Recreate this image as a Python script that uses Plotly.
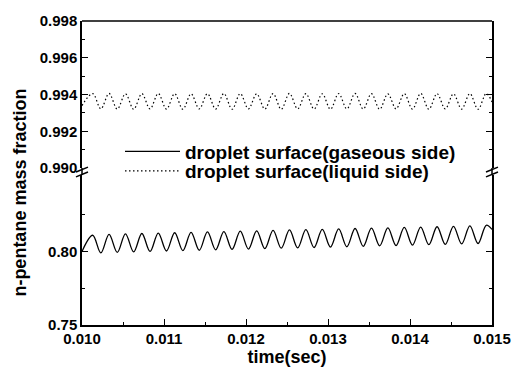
import plotly.graph_objects as go

# ---- data (extrema of the oscillations) ----
gas_peak_t = [0.01013, 0.01033, 0.01053, 0.01073, 0.01093, 0.01113, 0.01133, 0.01153,
              0.01173, 0.01193, 0.01213, 0.01233, 0.01253, 0.01273, 0.01293, 0.01313,
              0.01333, 0.01353, 0.01373, 0.01393, 0.01413, 0.01433, 0.01453, 0.01473, 0.01493]
gas_peak_v = [0.8110, 0.8116, 0.8120, 0.8122, 0.8125, 0.8127, 0.8130, 0.8133,
              0.8135, 0.8138, 0.8140, 0.8143, 0.8146, 0.8148, 0.8150, 0.8153,
              0.8156, 0.8158, 0.8160, 0.8163, 0.8166, 0.8168, 0.8171, 0.8174, 0.8178]
gas_trough_t = [0.01023, 0.01043, 0.01063, 0.01083, 0.01103, 0.01123, 0.01143, 0.01163,
                0.01183, 0.01203, 0.01223, 0.01243, 0.01263, 0.01283, 0.01303, 0.01323,
                0.01343, 0.01363, 0.01383, 0.01403, 0.01423, 0.01443, 0.01463, 0.01483]
gas_trough_v = [0.7990, 0.7994, 0.7997, 0.8000, 0.8003, 0.8006, 0.8008, 0.8011,
                0.8014, 0.8016, 0.8019, 0.8022, 0.8024, 0.8027, 0.8030, 0.8032,
                0.8035, 0.8038, 0.8040, 0.8043, 0.8046, 0.8048, 0.8051, 0.8054]
gas_start = (0.01000, 0.8000)
gas_end = (0.01500, 0.8150)

liq_peak_v = [0.99405, 0.99406, 0.99404, 0.99405, 0.99406, 0.99405, 0.99404, 0.99405,
              0.99406, 0.99405, 0.99404, 0.99405, 0.99406, 0.99405, 0.99404, 0.99405,
              0.99406, 0.99405, 0.99404, 0.99405, 0.99406, 0.99405, 0.99404, 0.99405, 0.99406]
liq_trough_v = [0.99322, 0.99321, 0.99320, 0.99322, 0.99321, 0.99320, 0.99322, 0.99321,
                0.99320, 0.99322, 0.99321, 0.99320, 0.99322, 0.99321, 0.99320, 0.99322,
                0.99321, 0.99320, 0.99322, 0.99321, 0.99320, 0.99322, 0.99321, 0.99320]
liq_start = (0.01000, 0.99340)
liq_end = (0.01500, 0.99360)

x_ticks = [0.010, 0.011, 0.012, 0.013, 0.014, 0.015]
x_ticklabels = ["0.010", "0.011", "0.012", "0.013", "0.014", "0.015"]
y_up_ticks = [0.990, 0.992, 0.994, 0.996, 0.998]
y_up_labels = ["0.990", "0.992", "0.994", "0.996", "0.998"]
y_lo_ticks = [0.75, 0.80]
y_lo_labels = ["0.75", "0.80"]

names = ["droplet surface(gaseous side)", "droplet surface(liquid side)"]


def interleave(start, pt, pv, tt, tv, end):
    xs, ys = [start[0]], [start[1]]
    for i in range(len(pt)):
        xs.append(pt[i]); ys.append(pv[i])
        if i < len(tt):
            xs.append(tt[i]); ys.append(tv[i])
    xs.append(end[0]); ys.append(end[1])
    return xs, ys


gx, gy = interleave(gas_start, gas_peak_t, gas_peak_v, gas_trough_t, gas_trough_v, gas_end)
lx, ly = interleave(liq_start, gas_peak_t, liq_peak_v, gas_trough_t, liq_trough_v, liq_end)

FONT = "Liberation Sans"
fig = go.Figure()
fig.add_trace(go.Scatter(x=gx, y=gy, mode="lines", name="<b>" + names[0] + "</b>", yaxis="y2",
                         legend="legend",
                         line=dict(color="black", width=1.3, shape="spline", smoothing=1.0)))
fig.add_trace(go.Scatter(x=lx, y=ly, mode="lines", name="<b>" + names[1] + "</b>", yaxis="y",
                         legend="legend2",
                         line=dict(color="black", width=1.2, dash="1.5px,2.5px", shape="spline", smoothing=1.0)))

W, H = 524, 376
L, R, T, B = 82, 32, 15, 51
pw, ph = W - L - R, H - T - B
up_bot = (325 - 165) / ph
lo_top = (325 - 172) / ph
lo_range_top = 0.75 + (325 - 172) / 1500.0

tickfont = dict(family=FONT, size=15, color="black", weight="bold")
legfont = dict(family=FONT, size=19, color="black")
leg_x = (120 - L) / pw
common_leg = dict(x=leg_x, xanchor="left", yanchor="middle", bgcolor="rgba(0,0,0,0)",
                  font=legfont, itemwidth=55, borderwidth=0)
fig.update_layout(
    width=W, height=H,
    margin=dict(l=L, r=R, t=T, b=B),
    paper_bgcolor="white", plot_bgcolor="white",
    showlegend=True,
    legend=dict(y=(325 - 148) / ph, **common_leg),
    legend2=dict(y=(325 - 168) / ph, **common_leg),
    xaxis=dict(range=[0.010, 0.015], anchor="y2", tickvals=x_ticks, ticktext=x_ticklabels,
               ticks="inside", ticklen=6, tickcolor="black", showline=True, linecolor="black",
               linewidth=1.5, showgrid=False, zeroline=False, tickfont=tickfont,
               ticklabelstandoff=-1,
               minor=dict(ticks="inside", ticklen=3, dtick=0.0005, tick0=0.010, tickcolor="black"),
               title=dict(text="<b>time(sec)</b>", font=dict(family=FONT, size=18, color="black"), standoff=0)),
    yaxis=dict(domain=[up_bot, 1.0], range=[0.990, 0.998], tickvals=y_up_ticks, ticktext=y_up_labels,
               ticks="inside", ticklen=6, tickcolor="black", showline=True, linecolor="black",
               linewidth=1.5, mirror="ticks", showgrid=False, zeroline=False, tickfont=tickfont,
               minor=dict(ticks="inside", ticklen=3, dtick=0.001, tick0=0.990, tickcolor="black")),
    yaxis2=dict(domain=[0.0, lo_top], range=[0.75, lo_range_top], tickvals=y_lo_ticks, ticktext=y_lo_labels,
                ticks="inside", ticklen=6, tickcolor="black", showline=True, linecolor="black",
                linewidth=1.5, mirror="ticks", showgrid=False, zeroline=False, tickfont=tickfont,
                minor=dict(ticks="inside", ticklen=3, tickvals=[0.775, 0.825], tickcolor="black")),
)

# y title spanning both panels
fig.add_annotation(text="<b>n-pentane mass fraction</b>", xref="paper", yref="paper",
                   x=(20 - L) / pw, y=(325 - 190) / ph, textangle=-90, showarrow=False,
                   font=dict(family=FONT, size=18, color="black"), xanchor="center", yanchor="middle")

# frame top line and connectors across the break
fig.add_shape(type="line", xref="paper", yref="paper", x0=0, x1=1, y0=1, y1=1,
              line=dict(color="black", width=1.5))
for xp in (0, 1):
    fig.add_shape(type="line", xref="paper", yref="paper", x0=xp, x1=xp, y0=lo_top, y1=up_bot,
                  line=dict(color="black", width=1.5))
    for yc in (166.5, 171.5):
        fig.add_shape(type="line", xref="paper", yref="paper",
                      x0=xp - 6 / pw, x1=xp + 6 / pw,
                      y0=(325 - (yc + 2.5)) / ph, y1=(325 - (yc - 2.5)) / ph,
                      line=dict(color="black", width=1.5))

fig.write_html("out.html")
